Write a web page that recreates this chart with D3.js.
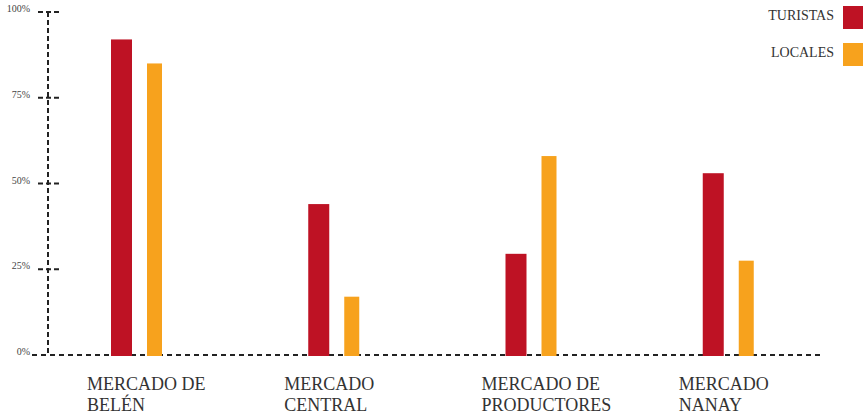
<!DOCTYPE html>
<html>
<head>
<meta charset="utf-8">
<script src="https://cdn.jsdelivr.net/npm/d3@7/dist/d3.min.js"></script>
<style>
  body { margin: 0; background: #fff; }
  svg { display: block; font-family: "Liberation Serif", "DejaVu Serif", serif; }
</style>
</head>
<body>
<div id="chart"></div>
<script>
// данные
const categories = ["MERCADO DE BELÉN", "MERCADO CENTRAL", "MERCADO DE PRODUCTORES", "MERCADO NANAY"];
const labelLines = [["MERCADO DE", "BELÉN"], ["MERCADO", "CENTRAL"], ["MERCADO DE", "PRODUCTORES"], ["MERCADO", "NANAY"]];
const turistas = [92, 44, 29.5, 53];
const locales = [85, 17, 58, 27.5];
const yTicks = [0, 25, 50, 75, 100];
const seriesNames = ["TURISTAS", "LOCALES"];
const seriesColors = ["#be1224", "#f7a21d"];

const width = 866;
const height = 417;

const svg = d3.select("#chart").append("svg")
    .attr("width", width)
    .attr("height", height);

const y = d3.scaleLinear().domain([0, 100]).range([355, 12]);
const x = d3.scaleBand().domain(categories).range([13, 802]).paddingInner(0).paddingOuter(0);

const redW = 21, gap = 15, orangeW = 15;
const groupOffset = 98; // от начала полосы до красного столбца

// ось Y (пунктир)
svg.append("line")
    .attr("x1", 48).attr("x2", 48)
    .attr("y1", y(100)).attr("y2", y(0))
    .attr("stroke", "#222")
    .attr("stroke-width", 2)
    .attr("stroke-dasharray", "5,3");

// засечки и подписи
const tick = svg.append("g").selectAll("g")
    .data(yTicks)
    .enter().append("g")
    .attr("transform", d => `translate(0,${y(d)})`);

tick.filter(d => d > 0).append("line")
    .attr("x1", 38).attr("x2", 59)
    .attr("stroke", "#222")
    .attr("stroke-width", 2)
    .attr("stroke-dasharray", "5,3");

tick.append("text")
    .text(d => d + "%")
    .attr("x", 30)
    .attr("y", 0)
    .attr("text-anchor", "end")
    .attr("font-size", "10px")
    .attr("fill", "#444");

// ось X
svg.append("line")
    .attr("x1", 32).attr("x2", 821)
    .attr("y1", y(0)).attr("y2", y(0))
    .attr("stroke", "#222")
    .attr("stroke-width", 2)
    .attr("stroke-dasharray", "5,4");

// столбцы
const group = svg.append("g").selectAll("g")
    .data(categories)
    .enter().append("g")
    .attr("transform", d => `translate(${x(d) + groupOffset},0)`);

group.append("rect")
    .attr("x", 0)
    .attr("y", (d, i) => y(turistas[i]))
    .attr("width", redW)
    .attr("height", (d, i) => y(0) - y(turistas[i]) + 1)
    .attr("fill", seriesColors[0]);

group.append("rect")
    .attr("x", redW + gap)
    .attr("y", (d, i) => y(locales[i]))
    .attr("width", orangeW)
    .attr("height", (d, i) => y(0) - y(locales[i]) + 1)
    .attr("fill", seriesColors[1]);

// подписи категорий
const label = group.append("text")
    .attr("font-size", "18px")
    .attr("fill", "#333");

label.selectAll("tspan")
    .data((d, i) => labelLines[i])
    .enter().append("tspan")
    .attr("x", -24)
    .attr("y", (d, j) => 390 + j * 21)
    .text(d => d);

// легенда
const legend = svg.append("g").selectAll("g")
    .data(seriesNames)
    .enter().append("g")
    .attr("transform", (d, i) => `translate(0,${6 + i * 37})`);

legend.append("rect")
    .attr("x", 843)
    .attr("width", 20)
    .attr("height", 23)
    .attr("fill", (d, i) => seriesColors[i]);

legend.append("text")
    .text(d => d)
    .attr("x", 834)
    .attr("y", 14)
    .attr("text-anchor", "end")
    .attr("font-size", "14px")
    .attr("fill", "#333");
</script>
</body>
</html>
